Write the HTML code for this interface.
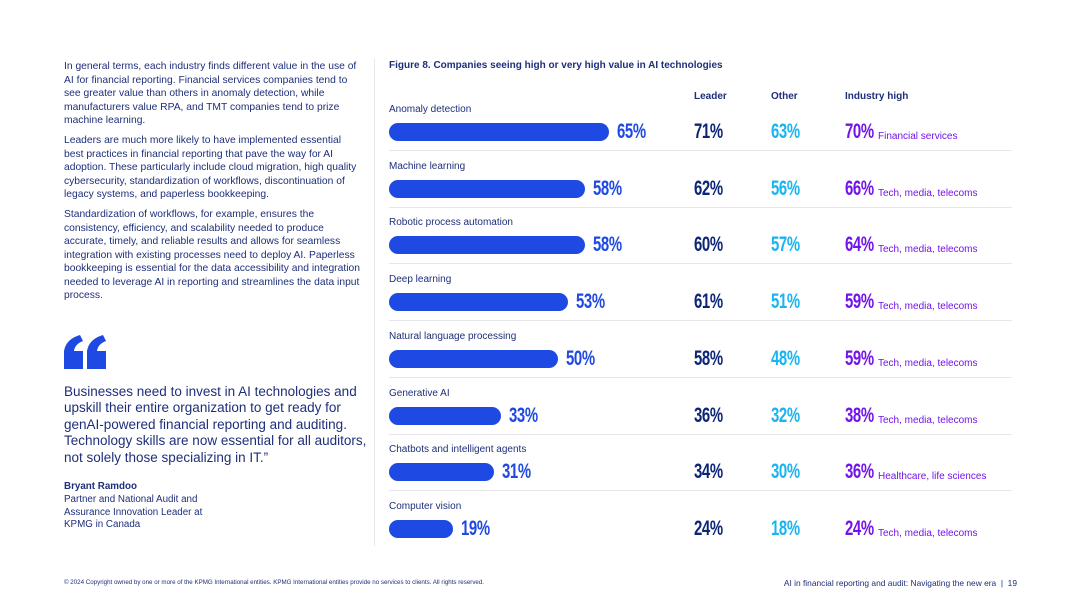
<!DOCTYPE html>
<html><head><meta charset="utf-8"><style>
body{margin:0;width:1080px;height:608px;background:#fff;font-family:"Liberation Sans",sans-serif;color:#1e2f7a;position:relative;overflow:hidden}
.p{position:absolute;left:64px;width:298px;font-size:10.3px;line-height:13.5px;margin:0}
.abs{position:absolute}
.num{font-weight:bold;font-size:21px;position:absolute;letter-spacing:-0.5px;transform:scaleX(0.71);transform-origin:left center;white-space:nowrap}
</style></head><body>
<p class="p" style="top:60px">In general terms, each industry finds different value in the use of AI for financial reporting. Financial services companies tend to see greater value than others in anomaly detection, while manufacturers value RPA, and TMT companies tend to prize machine learning.</p>
<p class="p" style="top:134px">Leaders are much more likely to have implemented essential best practices in financial reporting that pave the way for AI adoption. These particularly include cloud migration, high quality cybersecurity, standardization of workflows, discontinuation of legacy systems, and paperless bookkeeping.</p>
<p class="p" style="top:208px">Standardization of workflows, for example, ensures the consistency, efficiency, and scalability needed to produce accurate, timely, and reliable results and allows for seamless integration with existing processes need to deploy AI. Paperless bookkeeping is essential for the data accessibility and integration needed to leverage AI in reporting and streamlines the data input process.</p>
<svg class="abs" style="left:64px;top:335px" width="42" height="34" viewBox="0 0 42 34">
<path d="M0 34 V16 Q2 4 16 0 L19 6 Q11 9 10 16 H19 V34 Z" fill="#1e49e2"/>
<path d="M23 34 V16 Q25 4 39 0 L42 6 Q34 9 33 16 H42 V34 Z" fill="#1e49e2"/>
</svg>
<div class="abs" style="left:64px;top:384px;width:308px;font-size:13.5px;line-height:16.4px">Businesses need to invest in AI technologies and upskill their entire organization to get ready for genAI-powered financial reporting and auditing. Technology skills are now essential for all auditors, not solely those specializing in IT.”</div>
<div class="abs" style="left:64px;top:481px;font-size:9.8px;line-height:12.8px"><b>Bryant Ramdoo</b><br>Partner and National Audit and<br>Assurance Innovation Leader at<br>KPMG in Canada</div>
<div class="abs" style="left:374px;top:58px;width:1px;height:488px;background:#e8e8ee"></div>
<div class="abs" style="left:389px;top:60px;font-size:10px;font-weight:bold">Figure 8. Companies seeing high or very high value in AI technologies</div>
<div class="abs" style="left:694px;top:91px;font-size:10px;font-weight:bold">Leader</div>
<div class="abs" style="left:771px;top:91px;font-size:10px;font-weight:bold">Other</div>
<div class="abs" style="left:845px;top:91px;font-size:10px;font-weight:bold">Industry high</div>
<div id="chart"></div>
<div class="abs" style="left:64px;top:579px;font-size:6.2px">© 2024 Copyright owned by one or more of the KPMG International entities. KPMG International entities provide no services to clients. All rights reserved.</div>
<div class="abs" style="right:63px;top:578px;font-size:8.4px">AI in financial reporting and audit: Navigating the new era &nbsp;|&nbsp; 19</div>
<script>
const categories=["Anomaly detection","Machine learning","Robotic process automation","Deep learning","Natural language processing","Generative AI","Chatbots and intelligent agents","Computer vision"];
const overall=[65,58,58,53,50,33,31,19];
const leader=[71,62,60,61,58,36,34,24];
const other=[63,56,57,51,48,32,30,18];
const industryHigh=[70,66,64,59,59,38,36,24];
const industryName=["Financial services","Tech, media, telecoms","Tech, media, telecoms","Tech, media, telecoms","Tech, media, telecoms","Tech, media, telecoms","Healthcare, life sciences","Tech, media, telecoms"];
const c=document.getElementById('chart');
const x0=389,pxPer=3.385;
const rowY=i=>132+i*56.7;
function mk(html,style){const d=document.createElement('div');d.className='abs';d.style.cssText=style;d.innerHTML=html;c.appendChild(d);return d;}
categories.forEach((cat,i)=>{
 const y=rowY(i);
 const l=mk(cat,`left:389px;top:${y-28}px;font-size:10px`);
 
 
 const w=overall[i]*pxPer;
 const b=mk('',`left:${x0}px;top:${y-9}px;width:${w}px;height:18px;border-radius:9px;background:#1e49e2`);
 
 
 const v=mk(overall[i]+'%',`left:${x0+w+8}px;top:${y-12}px;color:#1e49e2`);v.className='num';
 
 
 const a=mk(leader[i]+'%',`left:694px;top:${y-12}px;color:#0c2577`);a.className='num';
 
 
 const o=mk(other[i]+'%',`left:771px;top:${y-12}px;color:#1ab4f0`);o.className='num';
 
 
 const h=mk(industryHigh[i]+'%',`left:845px;top:${y-12}px;color:#7213ea`);h.className='num';
 
 
 const n=mk(industryName[i],`left:878px;top:${y-1}px;font-size:10px;color:#7213ea`);
 
 
 if(i<categories.length-1){
  const s=mk('',`left:389px;top:${y+18}px;width:623px;height:1px;background:#e6e6ec`);
  
  
 }
});
</script>
</body></html>
